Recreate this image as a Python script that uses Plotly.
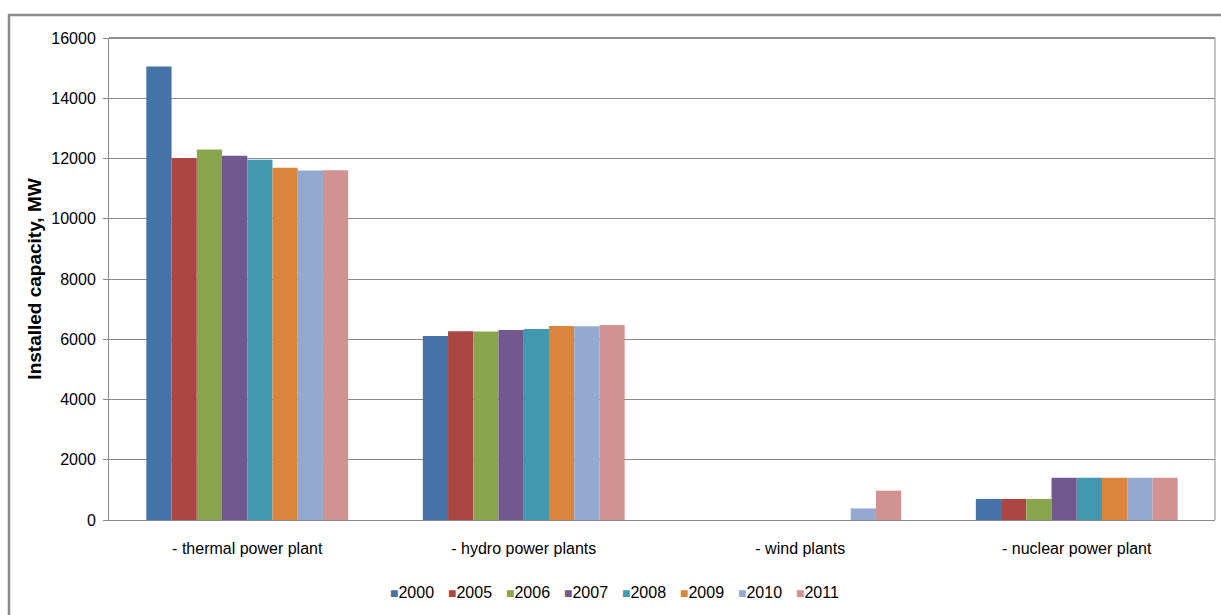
import plotly.graph_objects as go

categories = ["- thermal power plant", "- hydro power plants", "- wind plants", "- nuclear power plant"]
years = ["2000", "2005", "2006", "2007", "2008", "2009", "2010", "2011"]
colors = ["#4572A7", "#AA4643", "#89A54E", "#71588F", "#4198AF", "#DB843D", "#93A9CF", "#D19392"]

v2000 = [15050, 6110, 0, 700]
v2005 = [12020, 6265, 0, 700]
v2006 = [12300, 6260, 0, 700]
v2007 = [12090, 6310, 0, 1400]
v2008 = [11960, 6340, 0, 1400]
v2009 = [11690, 6440, 0, 1400]
v2010 = [11600, 6435, 385, 1400]
v2011 = [11610, 6475, 975, 1400]
series = [v2000, v2005, v2006, v2007, v2008, v2009, v2010, v2011]

FONT = "Liberation Sans, Arial, sans-serif"

# plot area in pixels
W, H = 1221, 615
L, R, T, B = 109, 1215, 38, 520
pw, ph = R - L, B - T

def px(x):
    return (x - L) / pw

def py(y):
    return 1 - (y - T) / ph

fig = go.Figure()
for name, vals, col in zip(years, series, colors):
    fig.add_trace(go.Bar(x=categories, y=vals, name=name, marker_color=col,
                         marker_line_width=0, showlegend=False))

fig.update_layout(
    width=W, height=H,
    margin=dict(l=L, r=W - R, t=T, b=H - B, pad=0),
    paper_bgcolor="white", plot_bgcolor="white",
    barmode="group", bargap=0.27, bargroupgap=0,
    font=dict(family=FONT, color="#000000", size=16),
)
fig.update_yaxes(
    range=[0, 16000], dtick=2000, tickformat="d", showgrid=True, gridcolor="#8a8a8a", gridwidth=1,
    ticks="outside", ticklen=5, tickcolor="#8a8a8a", showline=True, linecolor="#8a8a8a",
    linewidth=1, tickfont=dict(size=16, family=FONT), ticklabelstandoff=4,
    zeroline=False,
    title=dict(text="<b>Installed capacity, MW</b>", font=dict(size=19, family=FONT), standoff=4),
)
fig.update_xaxes(
    showline=True, linecolor="#8a8a8a", linewidth=1, ticks="", showgrid=False,
    tickfont=dict(size=16, family=FONT), ticklabelstandoff=14,
)

shapes = []
# plot area border: top dark, right gray
shapes.append(dict(type="line", xref="paper", yref="paper", x0=0, x1=1, y0=1, y1=1,
                   line=dict(color="#222222", width=1)))
shapes.append(dict(type="line", xref="paper", yref="paper", x0=1, x1=1, y0=0, y1=1,
                   line=dict(color="#8a8a8a", width=1)))
# outer chart border
shapes.append(dict(type="rect", xref="paper", yref="paper", x0=px(9), x1=px(1240),
                   y0=py(640), y1=py(15), line=dict(color="#8c8c8c", width=2.5)))
fig.update_layout(shapes=shapes)

# legend drawn as text entries
leg_x0, leg_pitch, leg_y = 388, 58, 592
for i, (name, col) in enumerate(zip(years, colors)):
    fig.add_annotation(
        xref="paper", yref="paper", x=px(leg_x0 + i * leg_pitch), y=py(leg_y),
        xanchor="left", yanchor="middle", showarrow=False,
        text=f"<span style='color:{col};font-size:14px'>■</span>{name}",
        font=dict(size=16, family=FONT, color="#000000"),
    )

fig.write_html("out.html")
